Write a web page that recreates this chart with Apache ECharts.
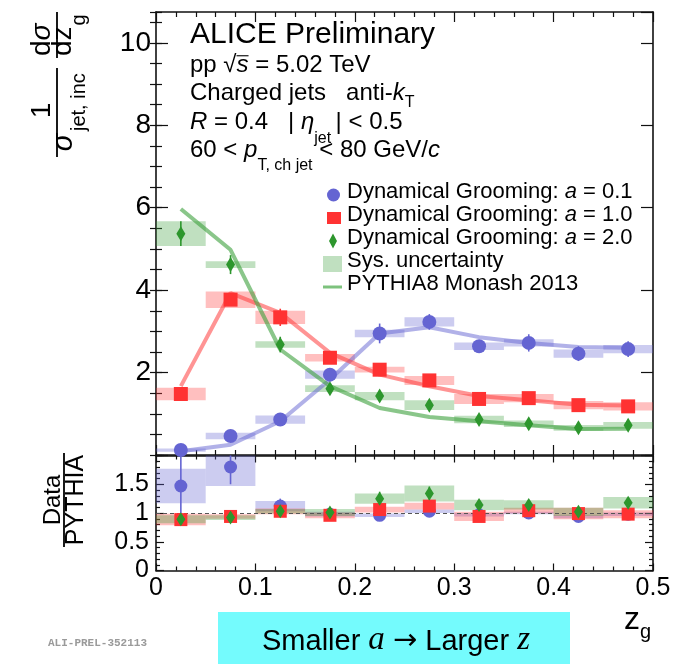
<!DOCTYPE html>
<html>
<head>
<meta charset="utf-8">
<script src="https://cdn.jsdelivr.net/npm/echarts@6/dist/echarts.min.js"></script>
<style>
  html, body { margin: 0; padding: 0; background: #fff; }
  #chart { width: 695px; height: 664px; }
</style>
</head>
<body>
<div id="chart"></div>
<script>
// ---- z_g binning ----
const zgBins = [0.025, 0.075, 0.125, 0.175, 0.225, 0.275, 0.325, 0.375, 0.425, 0.475];
const zgBinWidth = 0.05;

// ---- dynamical grooming a = 0.1 ----
const dg01      = [0.12, 0.46, 0.86, 1.95, 2.95, 3.23, 2.64, 2.72, 2.46, 2.57];
const dg01Stat  = [0.03, 0.05, 0.06, 0.10, 0.24, 0.19, 0.15, 0.21, 0.18, 0.19];
const dg01Sys   = [0.04, 0.08, 0.10, 0.10, 0.09, 0.11, 0.09, 0.09, 0.10, 0.10];
const pythia01  = [0.09, 0.25, 0.82, 1.83, 2.95, 3.10, 2.86, 2.72, 2.62, 2.60];

// ---- dynamical grooming a = 1.0 ----
const dg10      = [1.48, 3.77, 3.34, 2.36, 2.07, 1.81, 1.36, 1.38, 1.21, 1.18];
const dg10Stat  = [0.17, 0.10, 0.21, 0.10, 0.08, 0.08, 0.08, 0.08, 0.07, 0.07];
const dg10Sys   = [0.15, 0.20, 0.16, 0.09, 0.07, 0.11, 0.12, 0.10, 0.10, 0.10];
const pythia10  = [1.67, 3.93, 3.45, 2.48, 1.95, 1.67, 1.43, 1.33, 1.22, 1.20];

// ---- dynamical grooming a = 2.0 ----
const dg20      = [5.37, 4.62, 2.68, 1.61, 1.43, 1.21, 0.86, 0.76, 0.66, 0.72];
const dg20Stat  = [0.30, 0.23, 0.19, 0.12, 0.08, 0.07, 0.07, 0.06, 0.06, 0.06];
const dg20Sys   = [0.30, 0.08, 0.08, 0.08, 0.10, 0.12, 0.09, 0.08, 0.07, 0.08];
const pythia20  = [5.97, 4.98, 2.56, 1.67, 1.14, 0.92, 0.82, 0.72, 0.63, 0.64];

// ---- Data / PYTHIA ----
const ratio01     = [1.47, 1.80, 1.12, 0.98, 0.96, 1.03, 0.97, 1.00, 0.94, 0.98];
const ratio01Stat = [0.55, 0.30, 0.13, 0.06, 0.06, 0.06, 0.05, 0.06, 0.06, 0.06];
const ratio01Sys  = [0.30, 0.33, 0.09, 0.04, 0.03, 0.03, 0.03, 0.02, 0.03, 0.03];
const ratio10     = [0.885, 0.94, 1.03, 0.96, 1.06, 1.12, 0.94, 1.04, 0.99, 0.98];
const ratio10Stat = [0.10, 0.03, 0.06, 0.05, 0.04, 0.05, 0.05, 0.05, 0.05, 0.05];
const ratio10Sys  = [0.10, 0.04, 0.05, 0.05, 0.05, 0.06, 0.08, 0.05, 0.10, 0.07];
const ratio20     = [0.89, 0.92, 1.03, 1.01, 1.25, 1.34, 1.14, 1.14, 1.02, 1.18];
const ratio20Stat = [0.03, 0.03, 0.04, 0.05, 0.12, 0.12, 0.06, 0.06, 0.06, 0.07];
const ratio20Sys  = [0.07, 0.04, 0.04, 0.06, 0.09, 0.14, 0.09, 0.08, 0.07, 0.10];
const ratioReference = 1;

// ---- legend labels ----
const labelA01 = 'Dynamical Grooming: a = 0.1';
const labelA10 = 'Dynamical Grooming: a = 1.0';
const labelA20 = 'Dynamical Grooming: a = 2.0';
const labelSys = 'Sys. uncertainty';
const labelMC  = 'PYTHIA8 Monash 2013';

// ---- styling ----
const SANS = '"Liberation Sans", Arial, Helvetica, sans-serif';
const SERIF = '"Liberation Serif", "Times New Roman", serif';
const MONO = '"Liberation Mono", "Courier New", monospace';
const DEJAVU = '"DejaVu Sans", sans-serif';
const BLUE = 'rgb(100,100,210)';
const RED = 'rgb(255,50,50)';
const GREEN = 'rgb(45,150,45)';
const BLUE_SYS = 'rgba(100,100,210,0.33)';
const RED_SYS = 'rgba(255,60,60,0.33)';
const GREEN_SYS = 'rgba(60,160,60,0.32)';
const BLUE_LINE = 'rgba(100,100,210,0.5)';
const RED_LINE = 'rgba(255,60,60,0.55)';
const GREEN_LINE = 'rgba(60,160,60,0.6)';
const FRAME = '#111';

const points = (vals, extra) => zgBins.map((x, i) => extra ? [x, vals[i], extra[i]] : [x, vals[i]]);

// systematic-uncertainty boxes spanning the full bin
function sysBox(fill) {
  return function (params, api) {
    const x = api.value(0), y = api.value(1), h = api.value(2);
    const a = api.coord([x - zgBinWidth / 2, y + h]);
    const b = api.coord([x + zgBinWidth / 2, y - h]);
    const cs = params.coordSys;
    const top = Math.max(a[1], cs.y);
    const bot = Math.min(b[1], cs.y + cs.height);
    return { type: 'rect', shape: { x: a[0], y: top, width: b[0] - a[0], height: Math.max(0, bot - top) }, style: { fill: fill } };
  };
}
// vertical statistical error bars
function errBar(color) {
  return function (params, api) {
    const x = api.value(0), y = api.value(1), e = api.value(2);
    const p = api.coord([x, y + e]);
    const q = api.coord([x, y - e]);
    const cs = params.coordSys;
    return {
      type: 'line',
      shape: { x1: p[0], y1: Math.max(p[1], cs.y), x2: q[0], y2: Math.min(q[1], cs.y + cs.height) },
      style: { stroke: color, lineWidth: 1.6 }
    };
  };
}

function sysSeries(name, grid, vals, sys, fill) {
  return { name: name, type: 'custom', xAxisIndex: grid === 0 ? 0 : 2, yAxisIndex: grid === 0 ? 0 : 4,
    renderItem: sysBox(fill), data: points(vals, sys), encode: { x: 0, y: 1 }, itemStyle: { color: fill }, z: 1, silent: true };
}
function errSeries(name, grid, vals, err, color) {
  return { name: name, type: 'custom', xAxisIndex: grid === 0 ? 0 : 2, yAxisIndex: grid === 0 ? 0 : 4,
    renderItem: errBar(color), data: points(vals, err), encode: { x: 0, y: 1 }, z: 3, silent: true };
}
function markSeries(name, grid, vals, symbol, size, color, z) {
  return { name: name, type: 'scatter', xAxisIndex: grid === 0 ? 0 : 2, yAxisIndex: grid === 0 ? 0 : 4,
    data: points(vals), symbol: symbol, symbolSize: size, itemStyle: { color: color, opacity: 1 }, z: z, silent: true };
}
function mcSeries(name, vals, color) {
  return { name: name, type: 'line', xAxisIndex: 0, yAxisIndex: 0, data: points(vals), showSymbol: false,
    lineStyle: { color: color, width: 4 }, itemStyle: { color: color }, z: 2, silent: true };
}

// ---- axes ----
const tickStyle = { color: FRAME, width: 1.2 };
function xAx(grid, pos, labels, major, minor) {
  return {
    type: 'value', gridIndex: grid, position: pos, min: 0, max: 0.5, interval: 0.1,
    axisLine: { show: true, onZero: false, lineStyle: { color: FRAME, width: 1.6 } },
    axisTick: { show: true, inside: true, length: major, lineStyle: tickStyle },
    minorTick: { show: true, splitNumber: 5, length: minor, lineStyle: tickStyle },
    splitLine: { show: false }, minorSplitLine: { show: false },
    axisLabel: labels ? { show: true, fontSize: 25, fontFamily: SANS, color: '#000', margin: 5 } : { show: false }
  };
}
function yAx(grid, pos, min, max, interval, opts) {
  return Object.assign({
    type: 'value', gridIndex: grid, position: pos, min: min, max: max, interval: interval,
    axisLine: { show: true, onZero: false, lineStyle: { color: FRAME, width: 1.6 } },
    axisTick: { show: true, inside: true, length: 12, lineStyle: tickStyle },
    splitLine: { show: false }, minorSplitLine: { show: false },
    axisLabel: { show: false }
  }, opts);
}

// ---- header text made of styled pieces ----
const meas = document.createElement('canvas').getContext('2d');
function textWidth(t, font) { meas.font = font; return meas.measureText(t).width; }
function run(x0, baseline, pieces) {
  const out = [];
  let x = x0;
  pieces.forEach(function (p) {
    const font = (p.it ? 'italic ' : '') + p.size + 'px ' + (p.fam || SANS);
    const w = textWidth(p.t, font);
    out.push({ type: 'text', x: x, y: baseline + (p.dy || 0) - 0.35 * p.size, z: 20,
      style: { text: p.t, font: font, fill: '#000', align: 'left', verticalAlign: 'middle', textAlign: 'left', textVerticalAlign: 'middle' } });
    if (p.bar) {
      const yb = baseline - 0.76 * p.size;
      out.push({ type: 'line', z: 20, shape: { x1: x, y1: yb, x2: x + w, y2: yb }, style: { stroke: '#000', lineWidth: 1.1 } });
    }
    x += w;
  });
  return { elements: out, width: x - x0 };
}
function txt(x, y, text, font, align) {
  return { type: 'text', x: x, y: y, z: 20,
    style: { text: text, font: font, fill: '#000', align: align || 'left', verticalAlign: 'middle', textAlign: align || 'left', textVerticalAlign: 'middle' } };
}

const header = [].concat(
  run(190, 45, [{ t: 'ALICE Preliminary', size: 30 }]).elements,
  run(190, 74, [{ t: 'pp ', size: 24 }, { t: '\u221A', size: 24 }, { t: 's', size: 24, it: true, bar: true }, { t: ' = 5.02 TeV', size: 24 }]).elements,
  run(190, 102, [{ t: 'Charged jets   anti-', size: 24 }, { t: 'k', size: 24, it: true }, { t: 'T', size: 16, dy: 6 }]).elements,
  run(190, 131, [{ t: 'R', size: 24, it: true }, { t: ' = 0.4   | ', size: 24 }, { t: '\u03B7', size: 24, it: true },
                 { t: 'jet ', size: 16, dy: 13 }, { t: '| < 0.5', size: 24 }]).elements,
  run(190, 159, [{ t: '60 < ', size: 24 }, { t: 'p', size: 24, it: true }, { t: 'T, ch jet', size: 16, dy: 12 },
                 { t: ' < 80 GeV/', size: 24 }, { t: 'c', size: 24, it: true }]).elements
);

// annotation box below the axis
const notePieces = [{ t: 'Smaller ', size: 29 }, { t: 'a', size: 33, it: true, fam: SERIF }, { t: ' ', size: 29 },
                    { t: '\u2192', size: 29, fam: DEJAVU }, { t: ' Larger ', size: 29 }, { t: 'z', size: 33, it: true, fam: SERIF }];
const noteProbe = run(0, 0, notePieces);
const note = run(396 - noteProbe.width / 2, 652, notePieces).elements;

// vertical axis titles drawn as stacked fractions, rotated
const yTitle = {
  type: 'group', x: 57, y: 160, rotation: Math.PI / 2, children: [
    { type: 'line', shape: { x1: 3, y1: 0, x2: 92, y2: 0 }, style: { stroke: '#000', lineWidth: 1.8 } },
    txt(49.5, -15, '1', '28px ' + SANS, 'center'),
    txt(17.5, 6.5, '\u03C3', 'italic 29px ' + SANS, 'center'),
    txt(29, 22, 'jet, inc', '20px ' + SANS),
    { type: 'line', shape: { x1: 102, y1: 0, x2: 148, y2: 0 }, style: { stroke: '#000', lineWidth: 1.8 } },
    txt(104, -14.8, 'd', '28px ' + SANS),
    txt(104 + textWidth('d', '28px ' + SANS), -14.8, '\u03C3', 'italic 28px ' + SANS),
    txt(104, 6.2, 'dz', '28px ' + SANS),
    txt(104 + textWidth('dz', '28px ' + SANS) + 1, 22, 'g', '20px ' + SANS)
  ]
};
const rTitle = {
  type: 'group', x: 64, y: 547, rotation: Math.PI / 2, children: [
    { type: 'line', shape: { x1: 0, y1: 0, x2: 94, y2: 0 }, style: { stroke: '#000', lineWidth: 1.8 } },
    txt(47, 12.3, 'PYTHIA', '25px ' + SANS, 'center'),
    txt(47, -10.4, 'Data', '24px ' + SANS, 'center')
  ]
};

// ---- legends: one per entry so each icon keeps its own size ----
const legendText = {
  color: '#000', fontSize: 22, fontFamily: SANS, lineHeight: 22,
  rich: { i: { fontStyle: 'italic', fontSize: 22, fontFamily: SANS, lineHeight: 22 } }
};
function legendEntry(name, icon, color, left, top, w, h, padLeft) {
  return {
    show: true, left: left, top: top, orient: 'vertical', padding: 0, selectedMode: false,
    itemWidth: w, itemHeight: h, itemGap: 0,
    data: [{ name: name, icon: icon, itemStyle: { color: color, borderWidth: 0, opacity: 1 } }],
    formatter: function (n) { return n.replace(': a =', ': {i|a} ='); },
    textStyle: Object.assign({ padding: [0, 0, 7, padLeft] }, legendText)
  };
}

const option = {
  animation: false,
  backgroundColor: '#fff',
  grid: [
    { left: 156, top: 12, width: 497, height: 443, outerBoundsMode: 'none' },
    { left: 156, top: 455.5, width: 497, height: 115, outerBoundsMode: 'none' }
  ],
  xAxis: [
    xAx(0, 'bottom', false, 10, 5),
    xAx(0, 'top', false, 10, 5),
    xAx(1, 'bottom', true, 7, 4),
    xAx(1, 'top', false, 7, 4)
  ],
  yAxis: [
    yAx(0, 'left', 0, 10.75, 2, { axisLabel: { show: true, fontSize: 28, fontFamily: SANS, color: '#000', margin: 5,
      showMaxLabel: false, formatter: function (v) { return v === 0 ? '' : String(v); } } }),
    yAx(0, 'right', 0, 10.75, 2, {}),
    yAx(0, 'left', 0, 10.75, 0.5, { axisLine: { show: false }, axisTick: { show: true, inside: true, length: 6, lineStyle: tickStyle } }),
    yAx(0, 'right', 0, 10.75, 0.5, { axisLine: { show: false }, axisTick: { show: true, inside: true, length: 6, lineStyle: tickStyle } }),
    yAx(1, 'left', 0, 2, 0.5, { axisTick: { show: true, inside: true, length: 8, lineStyle: tickStyle },
      minorTick: { show: true, splitNumber: 5, length: 4, lineStyle: tickStyle },
      axisLabel: { show: true, fontSize: 25, fontFamily: SANS, color: '#000', margin: 7, showMaxLabel: false } }),
    yAx(1, 'right', 0, 2, 0.5, { axisTick: { show: true, inside: true, length: 8, lineStyle: tickStyle },
      minorTick: { show: true, splitNumber: 5, length: 4, lineStyle: tickStyle } })
  ],
  legend: [
    legendEntry(labelA01, 'circle', BLUE, 327, 180.5, 13, 13, 2),
    legendEntry(labelA10, 'rect', RED, 327, 203.5, 14, 12, 1),
    legendEntry(labelA20, 'diamond', GREEN, 329, 226.5, 8, 15, 5),
    legendEntry(labelSys, 'rect', 'rgb(192,224,192)', 323, 249.5, 19, 16, 0),
    legendEntry(labelMC, 'rect', 'rgb(125,194,125)', 323, 272.5, 19, 3, 0)
  ],
  series: [
    // upper panel: systematic boxes
    sysSeries('sys a=0.1', 0, dg01, dg01Sys, BLUE_SYS),
    sysSeries('sys a=1.0', 0, dg10, dg10Sys, RED_SYS),
    sysSeries(labelSys, 0, dg20, dg20Sys, GREEN_SYS),
    // PYTHIA curves
    mcSeries('pythia a=0.1', pythia01, BLUE_LINE),
    mcSeries('pythia a=1.0', pythia10, RED_LINE),
    mcSeries(labelMC, pythia20, GREEN_LINE),
    // statistical errors and markers
    errSeries('stat a=0.1', 0, dg01, dg01Stat, BLUE),
    errSeries('stat a=1.0', 0, dg10, dg10Stat, RED),
    errSeries('stat a=2.0', 0, dg20, dg20Stat, GREEN),
    markSeries(labelA01, 0, dg01, 'circle', 14, BLUE, 4),
    markSeries(labelA10, 0, dg10, 'rect', 14, RED, 5),
    markSeries(labelA20, 0, dg20, 'diamond', [9, 15], GREEN, 6),

    // lower panel: ratios
    sysSeries('ratio sys a=0.1', 1, ratio01, ratio01Sys, BLUE_SYS),
    sysSeries('ratio sys a=1.0', 1, ratio10, ratio10Sys, RED_SYS),
    sysSeries('ratio sys a=2.0', 1, ratio20, ratio20Sys, GREEN_SYS),
    errSeries('ratio stat a=0.1', 1, ratio01, ratio01Stat, BLUE),
    errSeries('ratio stat a=1.0', 1, ratio10, ratio10Stat, RED),
    errSeries('ratio stat a=2.0', 1, ratio20, ratio20Stat, GREEN),
    Object.assign(markSeries('ratio a=0.1', 1, ratio01, 'circle', 13, BLUE, 4), {
      markLine: { silent: true, symbol: 'none', label: { show: false },
        lineStyle: { color: '#555', width: 1, type: [4, 3] }, data: [{ yAxis: ratioReference }], z: 3 }
    }),
    markSeries('ratio a=1.0', 1, ratio10, 'rect', 13, RED, 5),
    markSeries('ratio a=2.0', 1, ratio20, 'diamond', [9, 14], GREEN, 6)
  ],
  graphic: { elements: [].concat(
    header,
    [yTitle, rTitle],
    [{ type: 'rect', shape: { x: 218, y: 612, width: 352, height: 52 }, style: { fill: 'rgb(116,251,253)' }, z: 10 }],
    note,
    run(624, 631, [{ t: 'z', size: 32 }, { t: 'g', size: 20, dy: 8 }]).elements,
    [{ type: 'text', x: 48, y: 643.5, z: 20, style: { text: 'ALI-PREL-352113', font: 'bold 11px ' + MONO, fill: '#9a9a9a',
      align: 'left', verticalAlign: 'middle', textAlign: 'left', textVerticalAlign: 'middle' } }]
  ) }
};

const chart = echarts.init(document.getElementById('chart'), null, { renderer: 'canvas' });
chart.setOption(option);
</script>
</body>
</html>
